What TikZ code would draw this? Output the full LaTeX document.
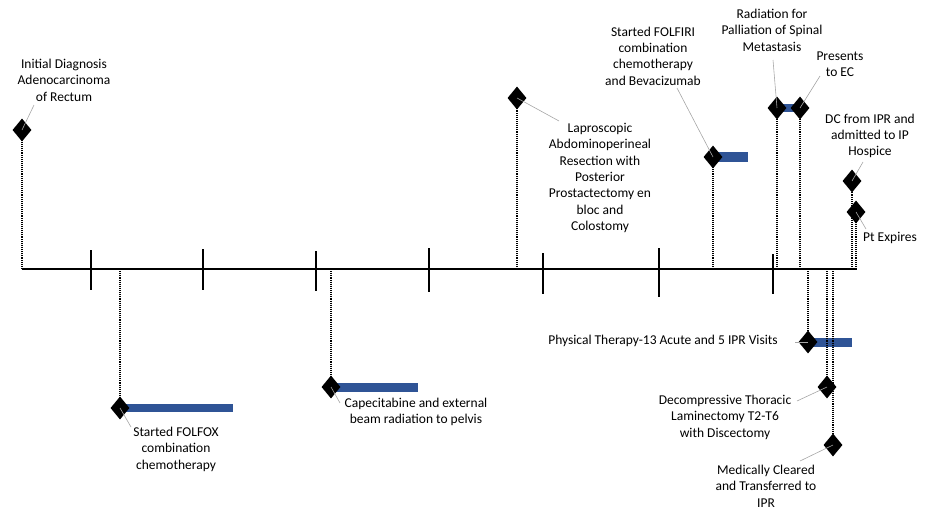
\documentclass[tikz,border=0pt]{standalone}
\usepackage{fontspec}
\setmainfont{Carlito}
\usetikzlibrary{shapes.geometric}
\definecolor{barblue}{RGB}{47,84,150}
\begin{document}
\begin{tikzpicture}[x=1pt,y=-1pt,
  ev/.style={diamond,fill=black,minimum width=19pt,minimum height=23pt,inner sep=0pt},
  lbl/.style={align=center,font=\fontsize{13.5}{16.4}\selectfont,inner sep=0pt},
  drop/.style={densely dotted,line width=1.1pt},
  callout/.style={draw=gray!70,line width=0.6pt},
  bar/.style={fill=barblue},
  axisline/.style={line width=1.8pt},
  tick/.style={line width=1.6pt}]
\useasboundingbox (0,0) rectangle (929,511);
% axis
\coordinate (aL) at (22,269);
\coordinate (aR) at (857,269);
\draw[axisline] (aL) -- (aR);
\foreach \x/\t/\b in {91/250/290,203/249/290,316/251/291,429/248/292,543/253/294,659/248/297,773/254/294}
  \draw[tick] (\x,\t) -- (\x,\b);
% axis anchor coordinates
\coordinate (x1) at (22,269);
\coordinate (x2) at (120,269);
\coordinate (x3) at (331,269);
\coordinate (x4) at (517,269);
\coordinate (x5) at (713,269);
\coordinate (x6) at (777,269);
\coordinate (x7) at (800,269);
\coordinate (x8) at (852,269);
\coordinate (x9) at (856,269);
\coordinate (x10) at (808,269);
\coordinate (x11) at (827,269);
\coordinate (x12) at (833,269);
% bars
\fill[bar] (120,404) rectangle (233,412);
\fill[bar] (331,383) rectangle (418,392);
\fill[bar] (713,152) rectangle (748,162);
\fill[bar] (777,104) rectangle (800,112);
\fill[bar] (808,338) rectangle (852,347);
% diamonds
\node[ev] (d1) at (22,130) {};
\node[ev] (d2) at (120,408) {};
\node[ev] (d3) at (331,387) {};
\node[ev] (d4) at (517,98) {};
\node[ev] (d5) at (713,157) {};
\node[ev] (d6) at (777,108) {};
\node[ev] (d7) at (800,108) {};
\node[ev] (d8) at (852,181) {};
\node[ev] (d9) at (856,212) {};
\node[ev] (d10) at (808,342) {};
\node[ev] (d11) at (827,387) {};
\node[ev] (d12) at (833,445) {};
% dotted drops
\foreach \i in {1,...,12} \draw[drop] (x\i) -- (d\i.center);
% labels
\node[lbl] (l1) at (64,80) {Initial Diagnosis\\Adenocarcinoma\\of Rectum};
\node[lbl] (l2) at (176,449) {Started FOLFOX\\combination\\chemotherapy};
\node[lbl] (l3) at (416,412) {Capecitabine and external\\beam radiation to pelvis};
\node[lbl] (l4) at (600,178) {Laproscopic\\Abdominoperineal\\Resection with\\Posterior\\Prostactectomy en\\bloc and\\Colostomy};
\node[lbl] (l5) at (653,56) {Started FOLFIRI\\combination\\chemotherapy\\and Bevacizumab};
\node[lbl] (l6) at (772,30) {Radiation for\\Palliation of Spinal\\Metastasis};
\node[lbl] (l7) at (840,64) {Presents\\to EC};
\node[lbl] (l8) at (870,136) {DC from IPR and\\admitted to IP\\Hospice};
\node[lbl] (l9) at (890,238) {Pt Expires};
\node[lbl] (l10) at (663,341) {Physical Therapy-13 Acute and 5 IPR Visits};
\node[lbl] (l11) at (725,417) {Decompressive Thoracic\\Laminectomy T2-T6\\with Discectomy};
\node[lbl] (l12) at (766,486) {Medically Cleared\\and Transferred to\\IPR};
% callout ends
\coordinate (c1) at (34,105);
\coordinate (c2) at (131,427);
\coordinate (c3) at (340,403);
\coordinate (c4) at (559,121);
\coordinate (c5) at (677,88);
\coordinate (c6) at (773,60);
\coordinate (c7) at (820,76);
\coordinate (c8) at (863,162);
\coordinate (c9) at (866,229);
\coordinate (c10) at (795,342);
\coordinate (c11) at (797,401);
\coordinate (c12) at (800,461);
\foreach \i in {1,...,12} \draw[callout] (d\i.center) -- (c\i);
\end{tikzpicture}
\end{document}
